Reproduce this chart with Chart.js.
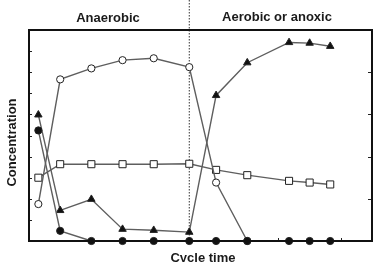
<!DOCTYPE html>
<html lang="en">
<head>
    <meta charset="UTF-8">
    <title>Concentration over cycle time</title>
    <style>
        html, body { margin: 0; padding: 0; background: #fff; }
        #wrap { width: 378px; height: 262px; }
    </style>
</head>
<body>
    <div id="wrap"><canvas id="cycleChart" width="378" height="262"></canvas></div>

    <script src="https://cdn.jsdelivr.net/npm/chart.js"></script>
    <script>
        // cycle time of each sample (1 unit = one bottom tick)
        const cycleTimes = [0.15, 0.5, 1, 1.5, 2, 2.57, 3, 3.5, 4.17, 4.5, 4.83];
        const phaseSwitch = 2.57;

        // concentration values
        const openCircles = [1.75, 7.66, 8.18, 8.57, 8.66, 8.24, 2.77, 0];
        const filledTriangles = [5.98, 1.45, 1.98, 0.56, 0.51, 0.42, 6.9, 8.45, 9.41, 9.38, 9.23];
        const openSquares = [3.0, 3.64, 3.64, 3.64, 3.64, 3.66, 3.37, 3.12, 2.85, 2.77, 2.68];
        const filledCircles = [5.24, 0.48, 0, 0, 0, 0, 0, 0, 0, 0, 0];

        const phaseLabels = ['Anaerobic', 'Aerobic or anoxic'];
        const yTitle = 'Concentration';
        const xTitle = 'Cycle time';

        const yTicks = [1, 2, 3, 4, 5, 6, 7, 8, 9];
        const yTicksRight = [2, 4, 6, 8];
        const xTicks = [4, 5];

        const lineColor = '#5e5e5e';

        function toPoints(values) {
            return values.map((v, i) => ({ x: cycleTimes[i], y: v }));
        }

        function series(values, style, fill, radius) {
            return {
                data: toPoints(values),
                borderColor: lineColor,
                borderWidth: 1.4,
                pointStyle: style,
                pointRadius: radius,
                pointBackgroundColor: fill,
                pointBorderColor: '#222',
                pointBorderWidth: 1,
                clip: false,
                tension: 0
            };
        }

        // frame, inner ticks, phase divider and text
        const decorations = {
            id: 'decorations',
            beforeDatasetsDraw(chart) {
                const { ctx, chartArea: a, scales: { x } } = chart;
                ctx.save();
                ctx.strokeStyle = '#333';
                ctx.lineWidth = 1;
                ctx.setLineDash([1.5, 1.5]);
                const px = x.getPixelForValue(phaseSwitch);
                ctx.beginPath();
                ctx.moveTo(px, 0);
                ctx.lineTo(px, a.bottom);
                ctx.stroke();
                ctx.restore();
            },
            afterDraw(chart) {
                const { ctx, chartArea: a, scales: { x, y } } = chart;
                ctx.save();
                ctx.strokeStyle = '#222';
                ctx.lineWidth = 1;
                yTicks.forEach(v => {
                    const py = Math.round(y.getPixelForValue(v)) + 0.5;
                    ctx.beginPath();
                    ctx.moveTo(a.left, py);
                    ctx.lineTo(a.left + 3, py);
                    ctx.stroke();
                });
                yTicksRight.forEach(v => {
                    const py = Math.round(y.getPixelForValue(v)) + 0.5;
                    ctx.beginPath();
                    ctx.moveTo(a.right, py);
                    ctx.lineTo(a.right - 4, py);
                    ctx.stroke();
                });
                xTicks.forEach(v => {
                    const px = Math.round(x.getPixelForValue(v)) + 0.5;
                    ctx.beginPath();
                    ctx.moveTo(px, a.bottom);
                    ctx.lineTo(px, a.bottom - 3);
                    ctx.stroke();
                });

                ctx.lineWidth = 2;
                ctx.strokeStyle = '#111';
                ctx.strokeRect(a.left, a.top, a.right - a.left, a.bottom - a.top);

                ctx.fillStyle = '#1a1a1a';
                ctx.font = 'bold 13px "Liberation Sans", Arial, sans-serif';
                ctx.textAlign = 'center';
                ctx.textBaseline = 'alphabetic';
                ctx.fillText(phaseLabels[0], 108, 21.5);
                ctx.fillText(phaseLabels[1], 277, 21);
                ctx.fillText(xTitle, 203, 262);

                ctx.translate(16, (a.top + a.bottom) / 2 + 7);
                ctx.rotate(-Math.PI / 2);
                ctx.fillText(yTitle, 0, 0);
                ctx.restore();
            }
        };

        // first dataset is painted last, so filled circles sit on top
        new Chart(document.getElementById('cycleChart'), {
            type: 'line',
            data: {
                datasets: [
                    series(filledCircles, 'circle', '#111', 3.6),
                    series(filledTriangles, 'triangle', '#111', 4.3),
                    series(openCircles, 'circle', '#fff', 3.6),
                    series(openSquares, 'rect', '#fff', 5)
                ]
            },
            options: {
                responsive: false,
                animation: false,
                layout: { padding: { left: 29, top: 30, right: 4, bottom: 21 } },
                plugins: {
                    legend: { display: false },
                    tooltip: { enabled: false }
                },
                scales: {
                    x: { type: 'linear', min: 0, max: 5.5, display: false },
                    y: { type: 'linear', min: 0, max: 10, display: false }
                }
            },
            plugins: [decorations]
        });
    </script>
</body>
</html>
